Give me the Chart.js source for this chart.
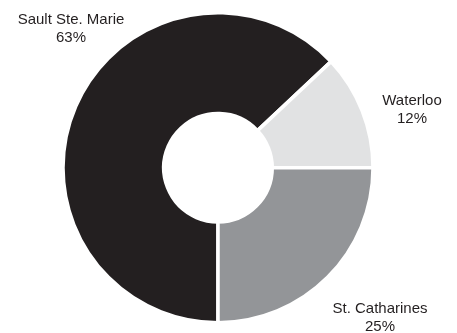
<!DOCTYPE html>
<html>
<head>
<meta charset="utf-8">
<script src="https://cdn.jsdelivr.net/npm/chart.js@4"></script>
<style>
  html, body { margin: 0; padding: 0; background: #fff; }
  #wrap { width: 457px; height: 333px; }
</style>
</head>
<body>
<div id="wrap"><canvas id="cityChart"></canvas></div>
<script>
// Share by city
const cities = ['Sault Ste. Marie', 'Waterloo', 'St. Catharines'];
const shares = [63, 12, 25];
const sliceColors = ['#231f20', '#e1e2e3', '#939598'];

// Where each city's caption sits (center x, first baseline y)
const captionSpots = [[71, 24], [412, 105], [380, 313]];

const captionPlugin = {
  id: 'captions',
  afterDraw(chart) {
    const ctx = chart.ctx;
    ctx.save();
    ctx.font = '15px "Liberation Sans", Arial, sans-serif';
    ctx.fillStyle = '#231f20';
    ctx.textAlign = 'center';
    ctx.textBaseline = 'alphabetic';
    cities.forEach((name, i) => {
      const [x, y] = captionSpots[i];
      ctx.fillText(name, x, y);
      ctx.fillText(shares[i] + '%', x, y + 18);
    });
    ctx.restore();
  }
};

new Chart(document.getElementById('cityChart'), {
  type: 'doughnut',
  data: {
    labels: cities,
    datasets: [{
      data: shares,
      backgroundColor: sliceColors,
      borderColor: '#ffffff',
      borderWidth: 3.5,
      hoverOffset: 0
    }]
  },
  options: {
    responsive: true,
    maintainAspectRatio: false,
    animation: false,
    rotation: 180,
    cutout: '35%',
    layout: { padding: { left: 61, right: 82, top: 11, bottom: 8.5 } },
    plugins: {
      legend: { display: false },
      tooltip: { enabled: false }
    }
  },
  plugins: [captionPlugin]
});
</script>
</body>
</html>
